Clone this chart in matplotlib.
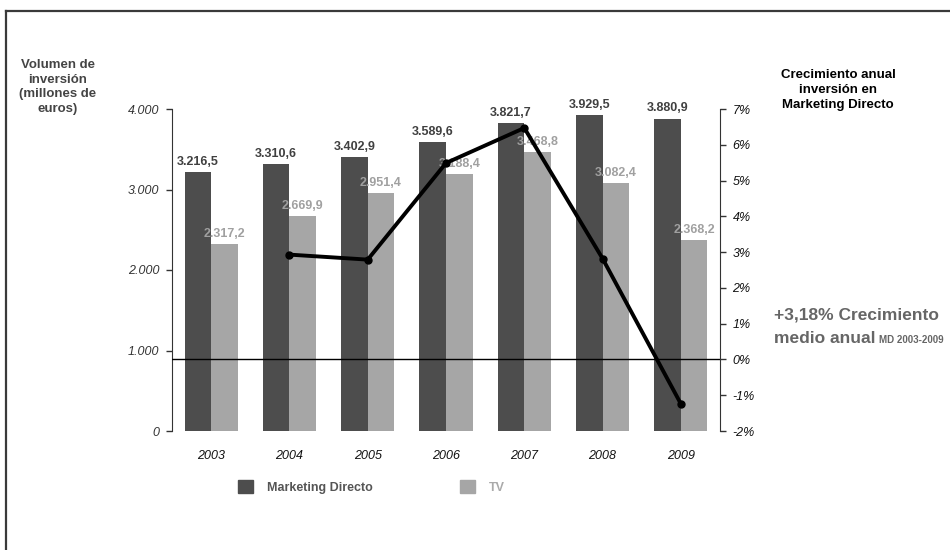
import matplotlib
matplotlib.use("Agg")
import matplotlib.pyplot as plt
from matplotlib.lines import Line2D
from matplotlib.patches import Patch
import numpy as np

plt.rcParams["font.family"] = ["Liberation Sans", "DejaVu Sans"]

years = ["2003", "2004", "2005", "2006", "2007", "2008", "2009"]
md_values = [3216.5, 3310.6, 3402.9, 3589.6, 3821.7, 3929.5, 3880.9]
tv_values = [2317.2, 2669.9, 2951.4, 3188.4, 3468.8, 3082.4, 2368.2]
growth_pct = [np.nan, 2.93, 2.79, 5.49, 6.47, 2.82, -1.24]
left_ticks = [0, 1000, 2000, 3000, 4000]
left_labels = ["0", "1.000", "2.000", "3.000", "4.000"]
right_ticks = [-2, -1, 0, 1, 2, 3, 4, 5, 6, 7]

DARK = "#4d4d4d"
LIGHT = "#a6a6a6"
W, H = 950, 550


def fmt_es(v):
    s = f"{v:,.1f}"
    return s.replace(",", "X").replace(".", ",").replace("X", ".")


fig = plt.figure(figsize=(W / 100, H / 100), dpi=100)
fig.patch.set_facecolor("white")
ax = fig.add_axes([172 / W, 1 - 431 / H, (720 - 172) / W, (431 - 109) / H])

x = np.arange(len(years))
bw = 0.34
b1 = ax.bar(x - bw / 2, md_values, bw, color=DARK, zorder=2)
b2 = ax.bar(x + bw / 2, tv_values, bw, color=LIGHT, zorder=2)

for rect, v in zip(b1, md_values):
    ax.annotate(fmt_es(v), (rect.get_x() + rect.get_width() / 2, v),
                xytext=(0, 3), textcoords="offset points", ha="center", va="bottom",
                fontsize=9, fontweight="bold", color="#404040")
for rect, v in zip(b2, tv_values):
    ax.annotate(fmt_es(v), (rect.get_x() + rect.get_width() / 2, v),
                xytext=(0, 3), textcoords="offset points", ha="center", va="bottom",
                fontsize=9, fontweight="bold", color="#a0a0a0")

ax.set_xlim(-0.5, len(years) - 0.5)
ax.set_ylim(0, 4000)
ax.set_yticks(left_ticks)
ax.set_yticklabels(left_labels, fontstyle="italic")
ax.set_xticks(x)
ax.set_xticklabels(years, fontstyle="italic")
ax.tick_params(axis="x", length=0, pad=14, labelsize=9, labelcolor="#111111")
ax.tick_params(axis="y", length=4, width=1, pad=5, labelsize=9,
               color="#333333", labelcolor="#333333")
for s in ["top", "bottom", "right"]:
    ax.spines[s].set_visible(False)
ax.spines["left"].set_color("#333333")

ax2 = ax.twinx()
ax2.set_ylim(-2, 7)
ax2.set_yticks(right_ticks)
ax2.set_yticklabels([f"{t}%" for t in right_ticks], fontstyle="italic")
ax2.tick_params(axis="y", length=4, width=1, pad=5, labelsize=9,
                color="#333333", labelcolor="#111111")
for s in ["top", "bottom", "left"]:
    ax2.spines[s].set_visible(False)
ax2.spines["right"].set_color("#333333")
ax2.axhline(0, color="black", lw=1, zorder=1)
ax2.plot(x, growth_pct, color="black", lw=2.8, marker="o", markersize=5, zorder=3)

# axis titles and side note
fig.text(58 / W, 1 - 59 / H, "Volumen de\ninversión\n(millones de\neuros)",
         ha="center", va="top", fontsize=9.5, fontweight="bold", color="#444444",
         linespacing=1.3)
fig.text(838 / W, 1 - 69 / H, "Crecimiento anual\ninversión en\nMarketing Directo",
         ha="center", va="top", fontsize=9.5, fontweight="bold", color="black",
         linespacing=1.35)
fig.text(856 / W, 1 - 315 / H, "+3,18% Crecimiento", ha="center", va="center",
         fontsize=12.5, fontweight="bold", color="#666666")
fig.text(875 / W, 1 - 343 / H, "medio anual", ha="right", va="baseline",
         fontsize=12.5, fontweight="bold", color="#666666")
fig.text(879 / W, 1 - 343 / H, "MD 2003-2009", ha="left", va="baseline",
         fontsize=7, fontweight="bold", color="#666666")

# legend
handles = [Patch(color=DARK), Patch(color=LIGHT)]
leg = fig.legend(handles, ["Marketing Directo", "TV"], loc="center left",
                 bbox_to_anchor=(238 / W, 1 - 487 / H), ncol=2, frameon=False,
                 borderpad=0, borderaxespad=0, handlelength=1.2, handleheight=1.2,
                 handletextpad=1.1, columnspacing=7.0,
                 prop={"size": 9, "weight": "bold"})
leg.get_texts()[0].set_color("#555555")
leg.get_texts()[1].set_color("#aaaaaa")

# outer frame (top and left edges)
fig.add_artist(Line2D([6 / W, 1], [1 - 11 / H, 1 - 11 / H], color="#3a3a3a", lw=1.6,
                      transform=fig.transFigure))
fig.add_artist(Line2D([6 / W, 6 / W], [0, 1 - 11 / H], color="#3a3a3a", lw=1.6,
                      transform=fig.transFigure))

fig.savefig("out.png", dpi=100)
